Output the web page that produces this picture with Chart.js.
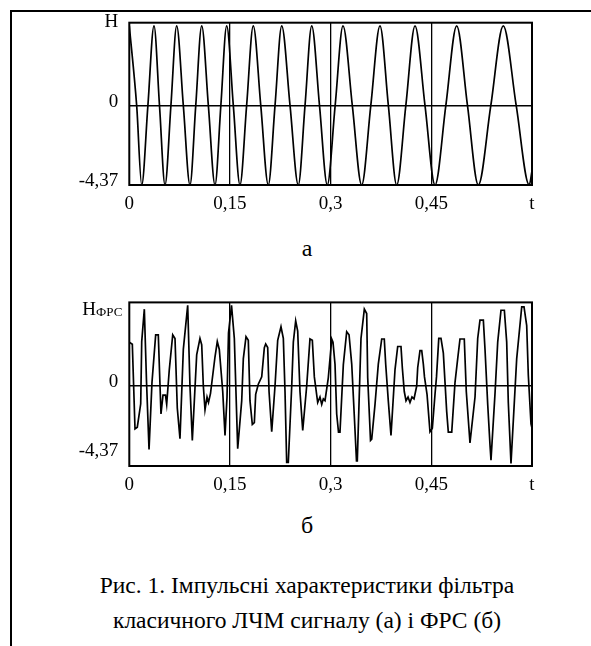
<!DOCTYPE html>
<html>
<head>
<meta charset="utf-8">
<script src="https://cdn.jsdelivr.net/npm/chart.js@4.4.0/dist/chart.umd.min.js"></script>
<style>
  body { margin: 0; background: #fff; width: 591px; height: 646px; overflow: hidden; position: relative;
         font-family: "Liberation Serif", "Times New Roman", serif; color: #000; }
  .frame { position: absolute; left: 10px; top: 10px; width: 640px; height: 700px;
           border-top: 2px solid #000; border-left: 2px solid #000; }
  canvas { position: absolute; left: 0; }
  #chartA { top: 0; }
  #chartB { top: 280px; }
  .label { position: absolute; left: 0; width: 614px; text-align: center; font-size: 24px; line-height: 30px; }
  .caption { position: absolute; left: 0; width: 614px; top: 568px; text-align: center; font-size: 23.5px; line-height: 35px; }
</style>
</head>
<body>
<div class="frame"></div>
<canvas id="chartA" width="591" height="230"></canvas>
<div class="label" style="top:233px">а</div>
<canvas id="chartB" width="591" height="230"></canvas>
<div class="label" style="top:510px">б</div>
<div class="caption">Рис. 1. Імпульсні характеристики фільтра<br>класичного ЛЧМ сигналу (а) і ФРС (б)</div>
<script>
// axis ticks
const xTicks = [0, 0.15, 0.3, 0.45, 0.6];
const xTickLabels = ['0', '0,15', '0,3', '0,45', 't'];
const yTicks = [-4.37, 0, 4.37];
const yTickLabelsA = ['-4,37', '0', 'H'];
const yTickLabelsB = [['-4,37', ''], '0', ''];   // top label is drawn with subscript
const yMin = -4.37;
const yMax = 4.57;

// (a) classic LFM filter response: peaks, zero crossings, troughs
const tLfm = [0, 0.011, 0.0185, 0.0277, 0.0368, 0.045, 0.0532, 0.062, 0.0706, 0.0805,
  0.0904, 0.099, 0.1079, 0.1178, 0.1277, 0.1364, 0.1451, 0.155, 0.1649, 0.1748,
  0.1847, 0.1959, 0.2071, 0.2171, 0.2271, 0.2395, 0.2518, 0.2618, 0.2718, 0.2834,
  0.295, 0.3067, 0.3184, 0.3323, 0.3462, 0.3598, 0.3735, 0.386, 0.3984, 0.412,
  0.4257, 0.4406, 0.4555, 0.4716, 0.4878, 0.5039, 0.52, 0.5386, 0.5572, 0.5765,
  0.5959, 0.6];
const hLfm = [4.4, 0, -4.37, 0, 4.4, 0, -4.37, 0, 4.4, 0,
  -4.37, 0, 4.4, 0, -4.37, 0, 4.4, 0, -4.37, 0,
  4.4, 0, -4.37, 0, 4.4, 0, -4.37, 0, 4.4, 0,
  -4.37, 0, 4.4, 0, -4.37, 0, 4.4, 0, -4.37, 0,
  4.4, 0, -4.37, 0, 4.4, 0, -4.37, 0, 4.4, 0,
  -4.37, -3.6];

// (б) FRS filter response
const tFrs = [0, 0.0045, 0.0085, 0.0119, 0.017, 0.0185, 0.0224, 0.0256, 0.0294, 0.0338,
  0.0393, 0.0432, 0.0472, 0.0502, 0.0539, 0.0557, 0.0596, 0.0647, 0.0681, 0.0715,
  0.0755, 0.0805, 0.087, 0.0904, 0.0939, 0.1004, 0.1053, 0.1079, 0.1103, 0.1128,
  0.1158, 0.118, 0.121, 0.1277, 0.1311, 0.1341, 0.1392, 0.1426, 0.1456, 0.1478,
  0.1523, 0.1565, 0.1615, 0.1675, 0.1699, 0.1739, 0.1773, 0.1798, 0.1833, 0.1863,
  0.1883, 0.1922, 0.1973, 0.2012, 0.2032, 0.2062, 0.2082, 0.2122, 0.2171, 0.2211,
  0.226, 0.2295, 0.232, 0.2345, 0.2369, 0.242, 0.2444, 0.2479, 0.2509, 0.2543,
  0.2584, 0.2643, 0.2692, 0.2727, 0.2757, 0.2807, 0.2841, 0.2867, 0.2891, 0.2916,
  0.2965, 0.3016, 0.3035, 0.3065, 0.309, 0.3117, 0.3139, 0.3189, 0.3239, 0.3274,
  0.3314, 0.3352, 0.3385, 0.3397, 0.3452, 0.3502, 0.3537, 0.3552, 0.3594, 0.3612,
  0.3661, 0.371, 0.3761, 0.3799, 0.382, 0.3859, 0.3899, 0.3959, 0.3999, 0.4048,
  0.4068, 0.4097, 0.4123, 0.4153, 0.4182, 0.4212, 0.4242, 0.4282, 0.4297, 0.4331,
  0.4357, 0.4381, 0.4398, 0.4436, 0.448, 0.4515, 0.4555, 0.4577, 0.4611, 0.4644,
  0.4679, 0.4704, 0.4729, 0.4753, 0.4804, 0.4853, 0.4893, 0.4927, 0.4991, 0.5021,
  0.5076, 0.5151, 0.5191, 0.5225, 0.5275, 0.53, 0.534, 0.5374, 0.5389, 0.5449,
  0.5489, 0.5538, 0.5588, 0.5623, 0.5647, 0.5687, 0.5772, 0.5847, 0.5881, 0.5921,
  0.5945, 0.5985, 0.6];
const hFrs = [2.39, 2.28, -2.34, -2.25, -0.97, 2.43, 4.2, 0.3, -3.46, 0.2,
  2.79, 2.79, -1.53, -0.5, -0.5, -1.0, 0.9, 2.8, 2.6, -1.2,
  -2.88, 2.0, 4.41, 0, -2.97, 1.7, 2.6, 2.25, 0, -1.3,
  -0.6, -0.9, -0.4, 1.6, 2.43, 2.0, -0.3, -2.7, -0.6, 2.9,
  4.41, 2.6, -3.42, -0.8, 1.5, 2.7, 2.5, -0.8, -2.1, -2.0,
  -0.45, 0.1, 0.5, 2.1, 2.3, 2.1, -0.3, -2.5, 0, 2.5,
  3.24, 2.6, -0.3, -4.18, -4.18, 0, 2.4, 3.56, 3.0, -0.3,
  -2.43, 0, 2.57, 2.5, 0.5, -0.9, -0.6, -1.0, -0.7, -0.8,
  0.45, 2.57, 2.4, 1.19, -1.53, -2.52, -2.52, 1.17, 2.97, 2.8,
  1.2, -1.6, -4.09, -4.09, 2.6, 4.2, 3.96, 0.45, -2.97, -2.9,
  -1.0, 1.2, 2.57, 2.57, 1.2, -0.81, -2.7, 0.9, 2.16, 2.16,
  1.0, -0.3, -0.8, -0.6, -0.9, -0.6, -0.7, 0, 1.0, 1.93,
  1.93, 1.2, 0.5, -0.45, -2.5, -2.3, -0.45, 0.5, 2.6, 2.6,
  1.8, 0.2, -1.4, -2.52, -2.52, 0.2, 1.5, 2.57, 2.57, -0.3,
  -3.11, -0.6, 2.6, 3.6, 3.6, 2.0, -1.0, -3.2, -4.05, -0.4,
  2.4, 4.14, 4.14, 2.4, -0.9, -4.23, 1.5, 4.32, 4.32, 3.3,
  0.6, -2.07, -2.3];

const fontFamily = '"Liberation Serif", "Times New Roman", serif';

// closed frame round the plot area
const boxPlugin = {
    id: 'box',
    afterDatasetsDraw(chart) {
        const a = chart.chartArea;
        const c = chart.ctx;
        c.save();
        c.strokeStyle = '#000';
        c.lineWidth = 2;
        c.strokeRect(a.left, a.top, a.right - a.left, a.bottom - a.top);
        c.restore();
    }
};

// "H" with subscript "ФРС" for the lower chart
const subLabelPlugin = {
    id: 'subLabel',
    afterDraw(chart) {
        const c = chart.ctx;
        const y = chart.scales.y.getPixelForValue(yTicks[2]);
        const right = chart.chartArea.left - 7;
        c.save();
        c.fillStyle = '#000';
        c.textAlign = 'right';
        c.textBaseline = 'alphabetic';
        c.font = '13px ' + fontFamily;
        c.fillText('ФРС', right, y + 9.5);
        const w = c.measureText('ФРС').width;
        c.font = '19px ' + fontFamily;
        c.fillText('H', right - w, y + 8.5);
        c.restore();
    }
};

function makeChart(canvasId, t, h, yLabels, padTop, axisHeight, smooth, extra) {
    const ctx = document.getElementById(canvasId).getContext('2d');
    return new Chart(ctx, {
        type: 'line',
        data: {
            datasets: [{
                data: t.map((v, i) => ({ x: v, y: h[i] })),
                borderColor: '#000',
                borderWidth: 1.7,
                pointRadius: 0,
                tension: 0,
                cubicInterpolationMode: smooth ? 'monotone' : 'default',
                fill: false
            }]
        },
        options: {
            responsive: false,
            animation: false,
            layout: { padding: { top: padTop, right: 59, left: 0, bottom: 0 } },
            plugins: {
                legend: { display: false },
                tooltip: { enabled: false }
            },
            scales: {
                x: {
                    type: 'linear',
                    min: 0,
                    max: 0.6,
                    afterBuildTicks: s => { s.ticks = xTicks.map(v => ({ value: v })); },
                    afterFit: s => { s.height = axisHeight; },
                    border: { display: false },
                    grid: {
                        drawTicks: false,
                        lineWidth: 1.3,
                        color: c => (c.tick && c.tick.value > 0 && c.tick.value < 0.6) ? '#000' : 'rgba(0,0,0,0)'
                    },
                    ticks: {
                        padding: 8,
                        color: '#000',
                        autoSkip: false,
                        maxRotation: 0,
                        font: { family: fontFamily, size: 19 },
                        callback: (v, i) => xTickLabels[i]
                    }
                },
                y: {
                    min: yMin,
                    max: yMax,
                    afterBuildTicks: s => { s.ticks = yTicks.map(v => ({ value: v })); },
                    afterFit: s => { s.width = 129.3; },
                    border: { display: false },
                    grid: {
                        drawTicks: false,
                        lineWidth: 1.5,
                        color: c => (c.tick && c.tick.value === 0) ? '#000' : 'rgba(0,0,0,0)'
                    },
                    ticks: {
                        padding: 11,
                        labelOffset: -4,
                        color: '#000',
                        font: { family: fontFamily, size: 19 },
                        callback: (v, i) => yLabels[i]
                    }
                }
            }
        },
        plugins: extra
    });
}

makeChart('chartA', tLfm, hLfm, yTickLabelsA, 22.7, 45, true, [boxPlugin]);
makeChart('chartB', tFrs, hFrs, yTickLabelsB, 21.7, 44, false, [boxPlugin, subLabelPlugin]);
</script>
</body>
</html>
